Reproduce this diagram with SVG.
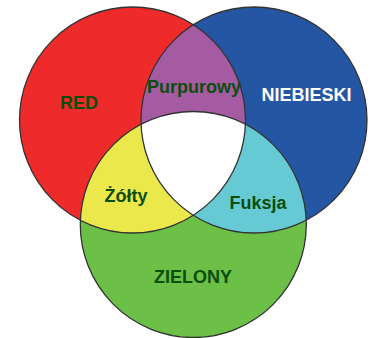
<svg xmlns="http://www.w3.org/2000/svg" width="371" height="338" viewBox="0 0 371 338">
<style>
.o{fill:none;stroke:#333;stroke-width:1.3}
.t{font-family:"Liberation Sans",Arial,sans-serif;font-weight:bold;font-size:18px;fill:#0b4d0b;text-anchor:middle}
.w{fill:#ffffff}
</style>
<defs>
<clipPath id="cR"><circle cx="132.5" cy="120" r="113"/></clipPath>
<clipPath id="cB"><circle cx="254" cy="120" r="113"/></clipPath>
<clipPath id="cG"><circle cx="193.3" cy="224.5" r="113"/></clipPath>
</defs>
<g id="red"><circle cx="132.5" cy="120" r="113" fill="#ee2a2b"/></g>
<g id="blue"><circle cx="254" cy="120" r="113" fill="#2456a4"/></g>
<g id="green"><circle cx="193.3" cy="224.5" r="113" fill="#6cbf47"/></g>
<g id="purple" clip-path="url(#cR)"><circle cx="254" cy="120" r="113" fill="#a55ba1"/></g>
<g id="yellow" clip-path="url(#cR)"><circle cx="193.3" cy="224.5" r="113" fill="#ebe84b"/></g>
<g id="cyan" clip-path="url(#cB)"><circle cx="193.3" cy="224.5" r="113" fill="#66cad4"/></g>
<g id="center" clip-path="url(#cR)"><g clip-path="url(#cB)"><circle cx="193.3" cy="224.5" r="113" fill="#ffffff"/></g></g>
<g id="outlines">
<circle class="o" cx="132.5" cy="120" r="113"/>
<circle class="o" cx="254" cy="120" r="113"/>
<circle class="o" cx="193.3" cy="224.5" r="113"/>
</g>
<g id="labels">
<text class="t" x="79" y="109">RED</text>
<text class="t" x="194" y="93">Purpurowy</text>
<text class="t w" x="306.5" y="100.5">NIEBIESKI</text>
<text class="t" x="126" y="202">Żółty</text>
<text class="t" x="258" y="209">Fuksja</text>
<text class="t" x="193" y="282.5">ZIELONY</text>
</g>
</svg>
